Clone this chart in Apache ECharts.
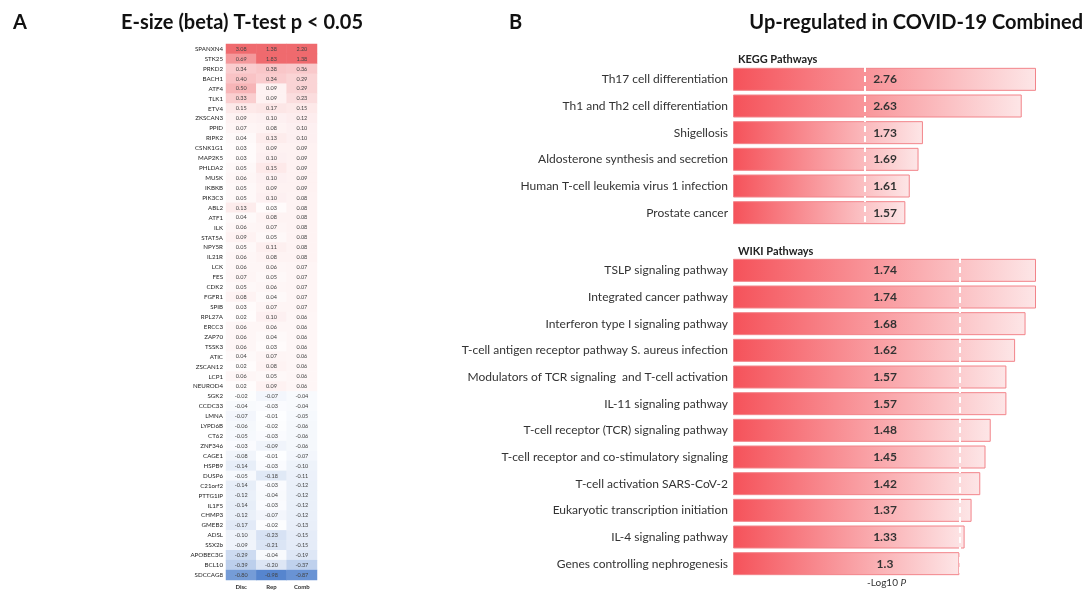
<!DOCTYPE html>
<html>
<head>
<meta charset="utf-8">
<script src="https://cdn.jsdelivr.net/npm/echarts@6/dist/echarts.min.js"></script>
<style>
  html, body { margin: 0; padding: 0; background: #ffffff; }
  #chart { width: 1086px; height: 590px; }
</style>
</head>
<body>
<div id="chart"></div>
<script>
// Panel A: effect sizes per gene (Discovery, Replication, Combined)
const heatColumns = ['Disc', 'Rep', 'Comb'];
const genes = ['SPANXN4','STK25','PRKD2','BACH1','ATF4','TLK1','ETV4','ZKSCAN3','PPID','RIPK2',
  'CSNK1G1','MAP2K5','PHLDA2','MUSK','IKBKB','PIK3C3','ABL2','ATF1','ILK','STAT5A',
  'NPY5R','IL21R','LCK','FES','CDK2','FGFR1','SPIB','RPL27A','ERCC3','ZAP70',
  'TSSK3','ATIC','ZSCAN12','LCP1','NEUROD4','SGK2','CCDC33','LMNA','LYPD6B','CT62',
  'ZNF346','CAGE1','HSPB9','DUSP6','C21orf2','PTTG1IP','IL1F5','CHMP3','GMEB2','ADSL',
  'SSX2b','APOBEC3G','BCL10','SDCCAG8'];
const discBeta = [3.08,0.69,0.34,0.40,0.50,0.33,0.15,0.09,0.07,0.04,
  0.03,0.03,0.05,0.06,0.05,0.05,0.13,0.04,0.06,0.09,
  0.05,0.06,0.06,0.07,0.05,0.08,0.03,0.02,0.06,0.06,
  0.06,0.04,0.02,0.06,0.02,-0.02,-0.04,-0.07,-0.06,-0.05,
  -0.03,-0.08,-0.14,-0.05,-0.14,-0.12,-0.14,-0.12,-0.17,-0.10,
  -0.09,-0.29,-0.39,-0.80];
const repBeta = [1.38,1.83,0.38,0.34,0.09,0.09,0.17,0.10,0.08,0.13,
  0.09,0.10,0.15,0.10,0.09,0.10,0.03,0.08,0.07,0.05,
  0.11,0.08,0.06,0.05,0.06,0.04,0.07,0.10,0.06,0.04,
  0.03,0.07,0.08,0.05,0.09,-0.07,-0.03,-0.01,-0.02,-0.03,
  -0.09,-0.01,-0.03,-0.18,-0.03,-0.04,-0.03,-0.07,-0.02,-0.23,
  -0.21,-0.04,-0.20,-0.98];
const combBeta = [2.20,1.38,0.36,0.29,0.29,0.23,0.15,0.12,0.10,0.10,
  0.09,0.09,0.09,0.09,0.09,0.08,0.08,0.08,0.08,0.08,
  0.08,0.08,0.07,0.07,0.07,0.07,0.07,0.06,0.06,0.06,
  0.06,0.06,0.06,0.06,0.06,-0.04,-0.04,-0.05,-0.06,-0.06,
  -0.06,-0.07,-0.10,-0.11,-0.12,-0.12,-0.12,-0.12,-0.13,-0.15,
  -0.15,-0.19,-0.37,-0.87];

// Panel B: enrichment, -log10 P
const keggPathways = ['Th17 cell differentiation','Th1 and Th2 cell differentiation','Shigellosis',
  'Aldosterone synthesis and secretion','Human T-cell leukemia virus 1 infection','Prostate cancer'];
const keggLogP = [2.76, 2.63, 1.73, 1.69, 1.61, 1.57];
const wikiPathways = ['TSLP signaling pathway','Integrated cancer pathway','Interferon type I signaling pathway',
  'T-cell antigen receptor pathway S. aureus infection','Modulators of TCR signaling  and T-cell activation',
  'IL-11 signaling pathway','T-cell receptor (TCR) signaling pathway','T-cell receptor and co-stimulatory signaling',
  'T-cell activation SARS-CoV-2','Eukaryotic transcription initiation','IL-4 signaling pathway',
  'Genes controlling nephrogenesis'];
const wikiLogP = [1.74, 1.74, 1.68, 1.62, 1.57, 1.57, 1.48, 1.45, 1.42, 1.37, 1.33, 1.3];
const keggCutoff = 1.2;
const wikiCutoff = 1.3;

const FONT = 'Lato, "Open Sans", sans-serif';

const heatData = [];
[discBeta, repBeta, combBeta].forEach((col, ci) => {
  col.forEach((v, ri) => heatData.push([ci, ri, v]));
});

const barFill = new echarts.graphic.LinearGradient(0, 0, 1, 0, [
  { offset: 0, color: '#f5525a' },
  { offset: 1, color: '#fde6e7' }
]);

function barSeries(values, axisIndex, cutoff) {
  return {
    type: 'bar',
    xAxisIndex: axisIndex,
    yAxisIndex: axisIndex,
    data: values,
    barWidth: 23,
    itemStyle: { color: barFill, borderColor: '#f2848a', borderWidth: 1 },
    label: {
      show: true,
      position: [152, '50%'],
      align: 'center',
      verticalAlign: 'middle',
      fontFamily: FONT,
      fontWeight: 'bold',
      fontSize: 12,
      color: '#333333',
      formatter: p => String(p.value)
    },
    markLine: {
      silent: true,
      symbol: 'none',
      z: 10,
      label: { show: false },
      lineStyle: { color: '#ffffff', width: 2, type: [6, 4] },
      data: [{ xAxis: cutoff }]
    }
  };
}

function pathwayAxis(names, gi) {
  return {
    type: 'category',
    gridIndex: gi,
    data: names,
    inverse: true,
    axisLine: { show: false },
    axisTick: { show: false },
    axisLabel: { fontFamily: FONT, fontSize: 12, color: '#333333', margin: 5 }
  };
}

const headline = { fontFamily: FONT, fontSize: 20, fontWeight: 'bold', color: '#111' };

const chart = echarts.init(document.getElementById('chart'), null, { renderer: 'canvas' });
chart.setOption({
  animation: false,
  backgroundColor: '#ffffff',
  title: [
    { text: 'A', left: 8, top: 8, textStyle: headline },
    { text: 'E-size (beta) T-test p < 0.05', left: 116, top: 8, textStyle: headline },
    { text: 'B', left: 504, top: 8, textStyle: headline },
    { text: 'Up-regulated in COVID-19 Combined', right: -2, top: 8, textStyle: headline },
    { text: 'KEGG Pathways', left: 733, top: 49, textStyle: { fontFamily: FONT, fontSize: 11, fontWeight: 'bold', color: '#222' } },
    { text: 'WIKI Pathways', left: 733, top: 241, textStyle: { fontFamily: FONT, fontSize: 11, fontWeight: 'bold', color: '#222' } },
    { text: '-Log10 {i|P}', left: 862, top: 573, textStyle: { fontFamily: FONT, fontSize: 10, fontWeight: 'normal', color: '#333',
        rich: { i: { fontFamily: FONT, fontSize: 10, fontStyle: 'italic', color: '#333' } } } }
  ],
  grid: [
    { left: 226, top: 44, width: 91, height: 541 },
    { left: 733, top: 66, width: 303, height: 160 },
    { left: 733, top: 257, width: 303, height: 320 }
  ],
  xAxis: [
    { type: 'category', gridIndex: 0, data: heatColumns, position: 'bottom',
      axisLine: { show: false }, axisTick: { show: false }, splitArea: { show: false },
      axisLabel: { fontFamily: FONT, fontSize: 6, fontWeight: 'bold', color: '#333', margin: 4 } },
    { type: 'value', gridIndex: 1, min: 0, max: Math.max(...keggLogP), show: false },
    { type: 'value', gridIndex: 2, min: 0, max: Math.max(...wikiLogP), show: false }
  ],
  yAxis: [
    { type: 'category', gridIndex: 0, data: genes, inverse: true,
      axisLine: { show: false }, axisTick: { show: false },
      axisLabel: { fontFamily: FONT, fontSize: 6.2, color: '#222', margin: 3, interval: 0 } },
    pathwayAxis(keggPathways, 1),
    pathwayAxis(wikiPathways, 2)
  ],
  visualMap: {
    show: false,
    type: 'continuous',
    seriesIndex: 0,
    dimension: 2,
    min: -1,
    max: 1,
    inRange: { color: ['#5383cd', '#ffffff', '#ef6a6e'] }
  },
  series: [
    {
      type: 'heatmap',
      xAxisIndex: 0,
      yAxisIndex: 0,
      data: heatData,
      label: {
        show: true,
        fontFamily: FONT,
        fontSize: 5.5,
        color: '#444',
        formatter: p => p.value[2].toFixed(2)
      },
      itemStyle: { borderWidth: 0 }
    },
    barSeries(keggLogP, 1, keggCutoff),
    barSeries(wikiLogP, 2, wikiCutoff)
  ]
});
</script>
</body>
</html>
